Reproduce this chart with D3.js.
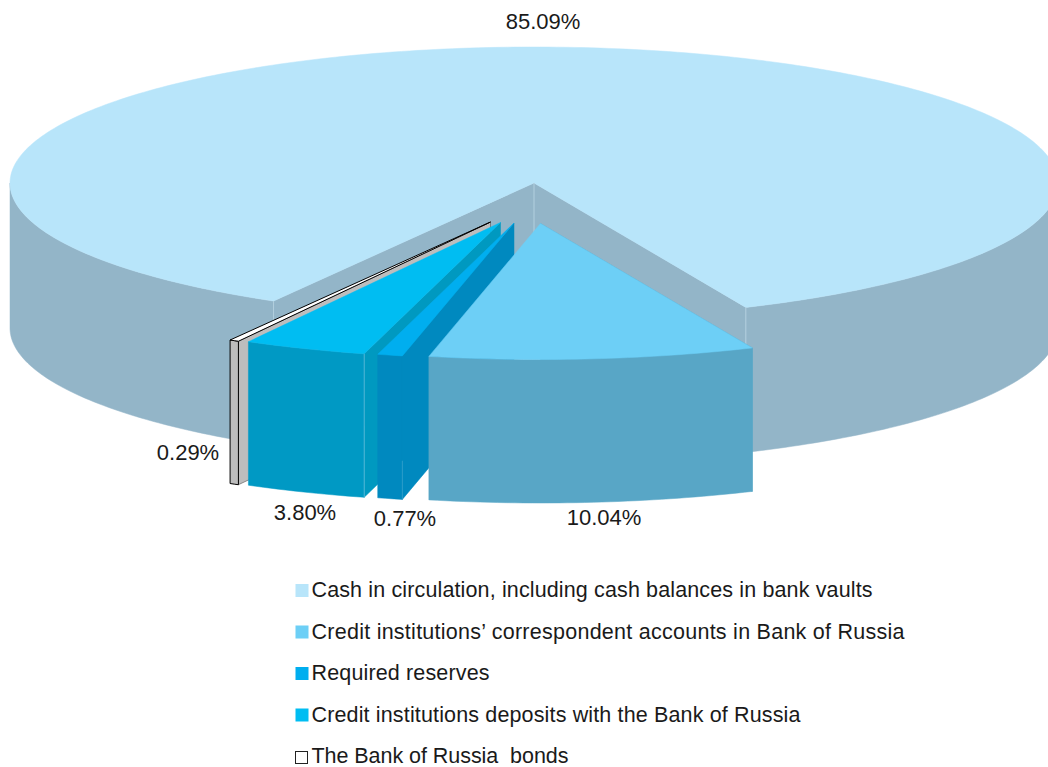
<!DOCTYPE html>
<html><head><meta charset="utf-8">
<script src="https://cdn.jsdelivr.net/npm/d3@7/dist/d3.min.js"></script>
<style>html,body{margin:0;padding:0;background:#fff;overflow:hidden}svg{display:block}
text{font-family:"Liberation Sans",Arial,sans-serif;fill:#1a1a1a;white-space:pre}</style>
</head><body><script>
const categories = ["Cash in circulation, including cash balances in bank vaults",
  "Credit institutions’ correspondent accounts in Bank of Russia",
  "Required reserves",
  "Credit institutions deposits with the Bank of Russia",
  "The Bank of Russia  bonds"];
const values = [85.09, 10.04, 0.77, 3.80, 0.29];
const valueLabels = ["85.09%", "10.04%", "0.77%", "3.80%", "0.29%"];
const topColors = ["#b8e5fa", "#6dcff6", "#00aeef", "#00bdf2", "#ffffff"];
const wallColors = ["#93b5c8", "#58a6c6", "#0089bf", "#0099c4", "#bdbdbd"];
const cutColors = ["#93b5c8", "#58a6c6", "#0089bf", "#0099c0", "#bdbdbd"];
const legendColors = ["#b8e5fa", "#6dcff6", "#00aeef", "#00bdf2", "#ffffff"];

const W = 1048, H = 767;
const cx = 534, cy = 183, rx = 524, ry = 136, depth = 145, exDepth = 143.5;
const explode = [[0,0],[6.5,40.5],[-20,40],[-33.5,39.5],[-43.5,39]];
const labelPos = [[543,29],[604,525],[405,526],[305,520],[188,460]];
const legendWidths = [561, 593, 178, 489, 257];

const svg = d3.select("body").append("svg").attr("width",W).attr("height",H);
const sx = d3.scaleLinear().domain([-1,1]).range([cx-rx,cx+rx]);
const sy = d3.scaleLinear().domain([-1,1]).range([cy-ry,cy+ry]);
const startA = 209.8*Math.PI/180;
const arcs = d3.pie().sort(null).startAngle(startA).endAngle(startA+2*Math.PI)(values);
const line = d3.line();
const pt = (a,i,dz=0)=>{
  const t=a-Math.PI/2;
  return [sx(Math.cos(t))+explode[i][0], sy(Math.sin(t))+explode[i][1]+dz];
};
const apex = (i,dz=0)=>[sx(0)+explode[i][0], sy(0)+explode[i][1]+dz];
const rim = (a0,a1,i,dz=0)=>{
  const n=Math.max(2,Math.ceil(Math.abs(a1-a0)*60));
  return d3.range(n+1).map(k=>pt(a0+(a1-a0)*k/n,i,dz));
};
const poly=(pts,fill,stroke,sw)=>svg.append("path").attr("d",line(pts)+"Z").attr("fill",fill)
   .attr("stroke",stroke||fill).attr("stroke-width",sw==null?0.5:sw).attr("stroke-linejoin","miter");

const c=arcs[0];
const norm=(deg)=>deg*Math.PI/180;
poly([apex(0),pt(c.startAngle,0),pt(c.startAngle,0,depth),apex(0,depth)],wallColors[0]);
poly([apex(0),pt(c.endAngle,0),pt(c.endAngle,0,depth),apex(0,depth)],wallColors[0]);
const leftWall=rim(c.startAngle,norm(270),0);
const leftWallB=rim(norm(270),c.startAngle,0,depth);
poly(leftWall.concat(leftWallB),wallColors[0]);
const rightWall=rim(norm(450),c.endAngle,0);
const rightWallB=rim(c.endAngle,norm(450),0,depth);
poly(rightWall.concat(rightWallB),wallColors[0]);
poly([apex(0)].concat(rim(c.startAngle,c.endAngle,0)),topColors[0]);
const seam=(a,b,col)=>svg.append("line").attr("x1",a[0]).attr("y1",a[1]).attr("x2",b[0]).attr("y2",b[1])
   .attr("stroke",col||"#b3d0df").attr("stroke-width",1);
seam(apex(0),apex(0,60));
seam(pt(c.startAngle,0),pt(c.startAngle,0,40));
seam(pt(c.endAngle,0),pt(c.endAngle,0,45));

[4,3,2,1].forEach(i=>{
  const d=arcs[i], a0=d.startAngle, a1=d.endAngle, out=i===4;
  const s=out?"#000":null, sw=out?1:0.5;
  poly([apex(i),pt(a0,i),pt(a0,i,exDepth),apex(i,exDepth)],cutColors[i],out?"#555":null,out?0.6:0.5);
  poly(rim(a0,a1,i).concat(rim(a1,a0,i,exDepth)),wallColors[i],s,sw);
  poly([apex(i)].concat(rim(a0,a1,i)),topColors[i],s,sw);
  if(i===3) seam(pt(a0,i),pt(a0,i,exDepth),"#4fb6d6");
  if(i===2) seam(pt(a0,i,105),pt(a0,i,exDepth),"#2a9cc9");
});

svg.selectAll("text.v").data(valueLabels).join("text").attr("class","v")
  .attr("x",(d,i)=>labelPos[i][0]).attr("y",(d,i)=>labelPos[i][1])
  .attr("text-anchor","middle").attr("font-size",22).text(d=>d);

const ly=d3.scalePoint().domain(d3.range(5)).range([597,763]);
const lg=svg.selectAll("g.l").data(categories).join("g").attr("class","l");
lg.append("rect").attr("x",295.5).attr("y",(d,i)=>ly(i)-(i===4?11.5:13)).attr("width",(d,i)=>i===4?12:13).attr("height",(d,i)=>i===4?12:13)
  .attr("fill",(d,i)=>legendColors[i]).attr("stroke",(d,i)=>i===4?"#222":"none").attr("stroke-width",1);
lg.append("text").attr("x",311.5).attr("y",(d,i)=>ly(i)).attr("font-size",21.5)
  .attr("textLength",(d,i)=>legendWidths[i]).attr("lengthAdjust","spacing").text(d=>d);
</script></body></html>
